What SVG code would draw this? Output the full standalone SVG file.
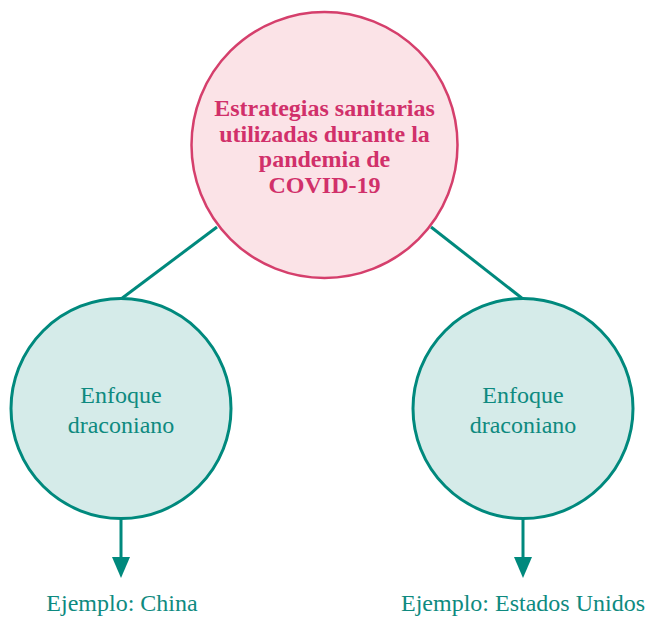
<svg xmlns="http://www.w3.org/2000/svg" width="648" height="617" viewBox="0 0 648 617">
<style>
.top{fill:#FBE3E7;stroke:#D53F6C;stroke-width:2.5}
.sub{fill:#D5EBE9;stroke:#00897D;stroke-width:3}
.tt{font-family:"Liberation Serif",serif;font-size:24px;font-weight:bold;fill:#D1306A;text-anchor:middle}
.st{font-family:"Liberation Serif",serif;font-size:24px;fill:#0E8A80;text-anchor:middle}
.ln{stroke:#00897D;stroke-width:3;fill:none}
.ah{fill:#00897D}
</style>
<g id="connectors">
<line class="ln" x1="217" y1="227" x2="121" y2="299"/>
<line class="ln" x1="431" y1="227" x2="523" y2="299"/>
<line class="ln" x1="121" y1="518" x2="121" y2="562"/>
<polygon class="ah" points="112,557 130,557 121,578"/>
<line class="ln" x1="523" y1="518" x2="523" y2="562"/>
<polygon class="ah" points="514,557 532,557 523,578"/>
</g>
<g id="root">
<circle class="top" cx="324.5" cy="145" r="133"/>
<text class="tt" x="324.5" y="116">Estrategias sanitarias</text>
<text class="tt" x="324.5" y="142">utilizadas durante la</text>
<text class="tt" x="324.5" y="167">pandemia de</text>
<text class="tt" x="324.5" y="193">COVID-19</text>
</g>
<g id="left">
<circle class="sub" cx="121" cy="408.5" r="110"/>
<text class="st" x="121" y="403">Enfoque</text>
<text class="st" x="121" y="433">draconiano</text>
</g>
<g id="right">
<circle class="sub" cx="523" cy="408.5" r="110"/>
<text class="st" x="523" y="403">Enfoque</text>
<text class="st" x="523" y="433">draconiano</text>
</g>
<g id="label-left">
<text class="st" x="122" y="611">Ejemplo: China</text>
</g>
<g id="label-right">
<text class="st" x="523" y="611">Ejemplo: Estados Unidos</text>
</g>
</svg>
